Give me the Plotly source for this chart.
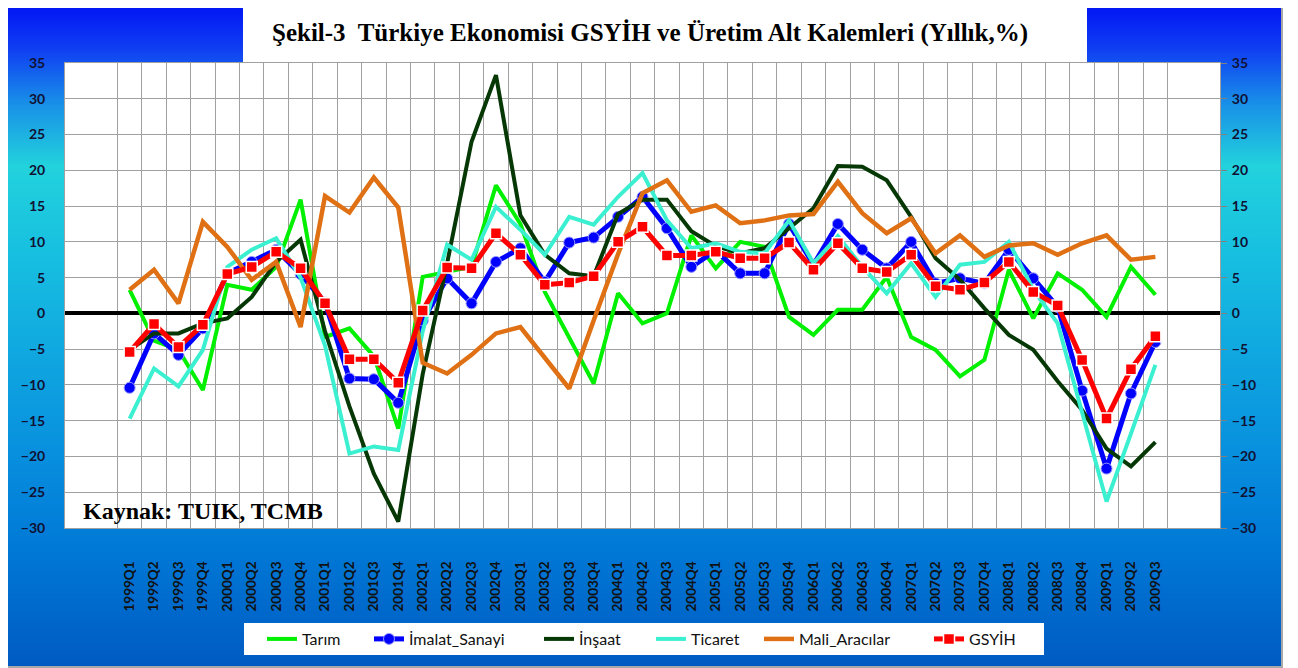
import base64, struct, zlib
import plotly.graph_objects as go

# ---------------- data ----------------
quarters = ["1999Q1","1999Q2","1999Q3","1999Q4","2000Q1","2000Q2","2000Q3","2000Q4",
            "2001Q1","2001Q2","2001Q3","2001Q4","2002Q1","2002Q2","2002Q3","2002Q4",
            "2003Q1","2003Q2","2003Q3","2003Q4","2004Q1","2004Q2","2004Q3","2004Q4",
            "2005Q1","2005Q2","2005Q3","2005Q4","2006Q1","2006Q2","2006Q3","2006Q4",
            "2007Q1","2007Q2","2007Q3","2007Q4","2008Q1","2008Q2","2008Q3","2008Q4",
            "2009Q1","2009Q2","2009Q3"]

tarim = [3.3, -3.8, -5.1, -10.7, 4.0, 3.3, 6.5, 15.9, -3.3, -2.1, -6.0, -16.1, 5.1, 5.8, 6.5, 17.9,
         12.5, 3.0, -3.3, -9.8, 2.8, -1.4, 0.0, 10.9, 6.3, 10.0, 9.3, -0.5, -3.0, 0.5, 0.5, 5.1,
         -3.3, -5.1, -8.8, -6.5, 6.1, -0.7, 5.6, 3.3, -0.5, 6.5, 2.6]

imalat = [-10.4, -2.8, -5.8, -2.1, 5.6, 7.2, 8.9, 5.5, 1.5, -9.1, -9.2, -12.5, -1.0, 4.9, 1.4, 7.2,
          9.1, 4.4, 9.9, 10.6, 13.5, 16.3, 11.9, 6.5, 8.8, 5.6, 5.6, 12.5, 6.8, 12.5, 8.9, 6.3,
          10.0, 4.2, 4.9, 4.2, 8.9, 4.9, 0.9, -10.8, -21.7, -11.2, -4.0]

insaat = [-5.1, -2.8, -2.8, -1.4, -0.7, 2.3, 7.2, 10.3, -2.5, -13.0, -22.4, -29.1, -8.5, 7.0, 24.0, 33.3,
          13.7, 8.2, 5.6, 5.2, 13.9, 15.9, 15.9, 11.5, 9.4, 8.4, 9.1, 11.9, 14.7, 20.6, 20.5, 18.6,
          13.5, 7.7, 4.7, 0.7, -3.0, -5.1, -9.5, -13.5, -18.9, -21.4, -18.0]

ticaret = [-14.7, -7.7, -10.2, -5.1, 6.5, 8.9, 10.5, 5.0, -4.5, -19.6, -18.6, -19.1, -2.5, 9.6, 7.5, 14.9,
           11.7, 8.2, 13.5, 12.4, 16.3, 19.6, 13.0, 9.1, 9.8, 8.6, 8.4, 13.0, 7.0, 10.8, 6.5, 2.8,
           7.0, 2.3, 6.8, 7.2, 10.0, 3.3, -1.4, -14.0, -26.3, -16.8, -7.2]

mali = [3.3, 6.1, 1.4, 12.8, 9.3, 4.7, 7.2, -1.9, 16.4, 14.1, 19.0, 14.8, -6.9, -8.4, -5.8, -2.8,
        -1.9, -6.1, -10.5, -1.0, 8.3, 16.8, 18.6, 14.2, 15.1, 12.6, 13.0, 13.7, 13.9, 18.4, 14.0, 11.2,
        13.3, 8.4, 10.9, 7.9, 9.5, 9.8, 8.2, 9.8, 10.9, 7.5, 7.9]

gsyih = [-5.4, -1.5, -4.7, -1.6, 5.5, 6.5, 8.6, 6.3, 1.4, -6.4, -6.4, -9.7, 0.4, 6.4, 6.3, 11.2,
         8.2, 4.0, 4.3, 5.2, 10.0, 12.1, 8.1, 8.1, 8.6, 7.7, 7.7, 9.9, 6.1, 9.8, 6.3, 5.8,
         8.2, 3.8, 3.3, 4.3, 7.2, 3.0, 1.1, -6.5, -14.7, -7.8, -3.2]

y_ticks = [35, 30, 25, 20, 15, 10, 5, 0, -5, -10, -15, -20, -25, -30]

title_text = "Şekil-3  Türkiye Ekonomisi GSYİH ve Üretim Alt Kalemleri (Yıllık,%)"
source_text = "Kaynak: TUIK, TCMB"

# ---------------- geometry ----------------
# page coordinates are measured on the 1298x668 window; the figure div sits 8px in
OFF = 8
W, H = 1298 - OFF, 668 - OFF
PL, PR, PT, PB = 65 - OFF, 1220 - OFF, 63 - OFF, 528 - OFF
pw, ph = PR - PL, PB - PT

def px(x_page):
    return (x_page - OFF - PL) / pw

def py(y_page):
    return (PB - (y_page - OFF)) / ph

# ---------------- background gradient image ----------------
stops = [(0, (0, 16, 245)), (50, (16, 64, 242)), (100, (24, 140, 232)), (165, (34, 210, 220)),
         (250, (24, 192, 224)), (350, (16, 168, 224)), (450, (8, 144, 222)), (550, (0, 120, 214)),
         (667, (0, 90, 194))]

def grad_color(y):
    for (y0, c0), (y1, c1) in zip(stops[:-1], stops[1:]):
        if y0 <= y <= y1:
            t = (y - y0) / (y1 - y0)
            return tuple(int(round(a + (b - a) * t)) for a, b in zip(c0, c1))
    return stops[-1][1]

def make_png(rows):
    raw = b"".join(b"\x00" + bytes(r) for r in rows)
    def chunk(tag, data):
        c = struct.pack(">I", len(data)) + tag + data
        return c + struct.pack(">I", zlib.crc32(tag + data) & 0xffffffff)
    ihdr = struct.pack(">IIBBBBB", 1, len(rows), 8, 2, 0, 0, 0)
    return (b"\x89PNG\r\n\x1a\n" + chunk(b"IHDR", ihdr) + chunk(b"IDAT", zlib.compress(raw))
            + chunk(b"IEND", b""))

gy0, gy1, gx0, gx1 = 1, 667, 4, 1282
rows = [grad_color(y) for y in range(gy0, gy1)]
png_uri = "data:image/png;base64," + base64.b64encode(make_png(rows)).decode()

# ---------------- traces ----------------
fig = go.Figure()
fig.add_trace(go.Scatter(x=quarters, y=tarim, name="Tarım", mode="lines", legend="legend",
                         line=dict(color="#00f000", width=4)))
fig.add_trace(go.Scatter(x=quarters, y=imalat, name="İmalat_Sanayi", mode="lines+markers",
                         legend="legend2",
                         line=dict(color="#0000ff", width=5),
                         marker=dict(symbol="circle", size=11, color="#0000ff",
                                     line=dict(color="#9a9aff", width=1))))
fig.add_trace(go.Scatter(x=quarters, y=insaat, name="İnşaat", mode="lines", legend="legend3",
                         line=dict(color="#063806", width=4)))
fig.add_trace(go.Scatter(x=quarters, y=ticaret, name="Ticaret", mode="lines", legend="legend4",
                         line=dict(color="#3af0d0", width=4)))
fig.add_trace(go.Scatter(x=quarters, y=mali, name="Mali_Aracılar", mode="lines", legend="legend5",
                         line=dict(color="#e07014", width=4.5)))
fig.add_trace(go.Scatter(x=quarters, y=gsyih, name="GSYİH", mode="lines+markers", legend="legend6",
                         line=dict(color="#ff0000", width=5),
                         marker=dict(symbol="square", size=11, color="#ff0000",
                                     line=dict(color="#ffffff", width=1.5))))
# invisible helper so the right-hand axis is drawn
fig.add_trace(go.Scatter(x=quarters, y=gsyih, yaxis="y2", mode="lines", opacity=0,
                         line=dict(width=0), showlegend=False, hoverinfo="skip"))

tick_font = dict(family="Lato, Open Sans, sans-serif", size=14, color="#111133", weight="bold")
legend_font = dict(family="Lato, Open Sans, sans-serif", size=16, color="#111111")

legend_starts = [268, 375, 545, 657, 765, 935]
legend_keys = ["legend", "legend2", "legend3", "legend4", "legend5", "legend6"]
legends = {}
for key, xs in zip(legend_keys, legend_starts):
    legends[key] = dict(orientation="h", x=px(xs - 6), xanchor="left", y=py(639), yanchor="middle",
                        bgcolor="rgba(0,0,0,0)", font=legend_font, itemwidth=30)

fig.update_layout(
    width=W, height=H,
    margin=dict(l=PL, r=W - PR, t=PT, b=H - PB, pad=0),
    paper_bgcolor="#ffffff",
    plot_bgcolor="rgba(0,0,0,0)",
    xaxis=dict(type="category", tickson="boundaries", showgrid=True, gridcolor="#a0a0a0",
               gridwidth=1, ticks="", tickangle=-90, ticklabelstandoff=27,
               tickfont=dict(family="Lato, Open Sans, sans-serif", size=13.5, color="#111111",
                             weight="bold"),
               showline=True, linecolor="#a0a0a0", mirror=True, fixedrange=True),
    yaxis=dict(range=[-30, 35], tickvals=y_ticks, showgrid=True, gridcolor="#a0a0a0",
               gridwidth=1, zeroline=True, zerolinecolor="#000000", zerolinewidth=4,
               ticks="", ticklabelstandoff=16, tickfont=tick_font,
               showline=True, linecolor="#a0a0a0", mirror=True),
    yaxis2=dict(range=[-30, 35], tickvals=y_ticks, overlaying="y", side="right",
                showgrid=False, zeroline=False, ticks="outside", ticklen=6, tickcolor="#808080",
                ticklabelstandoff=2, tickfont=tick_font),
    showlegend=True,
    **legends,
)

fig.add_layout_image(dict(source=png_uri, xref="paper", yref="paper",
                          x=px(gx0), y=py(gy0), sizex=(gx1 - gx0) / pw, sizey=(gy1 - gy0) / ph,
                          xanchor="left", yanchor="top", sizing="stretch", layer="below"))

shapes = [
    # white plot area
    dict(type="rect", xref="paper", yref="paper", x0=0, x1=1, y0=0, y1=1,
         fillcolor="#ffffff", line=dict(width=0), layer="below"),
    # title box
    dict(type="rect", xref="paper", yref="paper", x0=px(243), x1=px(1087), y0=py(63), y1=py(6),
         fillcolor="#ffffff", line=dict(width=0), layer="below"),
    # legend box
    dict(type="rect", xref="paper", yref="paper", x0=px(244), x1=px(1044), y0=py(655), y1=py(623),
         fillcolor="#ffffff", line=dict(width=0), layer="below"),
    # outer border
    dict(type="rect", xref="paper", yref="paper", x0=px(gx0), x1=px(gx1), y0=py(gy1), y1=py(gy0),
         fillcolor="rgba(0,0,0,0)", line=dict(color="#a8a8a8", width=2), layer="below"),
]
fig.update_layout(shapes=shapes)

fig.add_annotation(text="<b>" + title_text + "</b>", xref="paper", yref="paper",
                   x=px(650), y=py(33), xanchor="center", yanchor="middle", showarrow=False,
                   font=dict(family="Liberation Serif, Times New Roman, serif", size=25,
                             color="#000000"))
fig.add_annotation(text="<b>" + source_text + "</b>", xref="paper", yref="paper",
                   x=px(81), y=py(511), xanchor="left", yanchor="middle", showarrow=False,
                   font=dict(family="Liberation Serif, Times New Roman, serif", size=24,
                             color="#000000"))

fig.write_html("out.html")
